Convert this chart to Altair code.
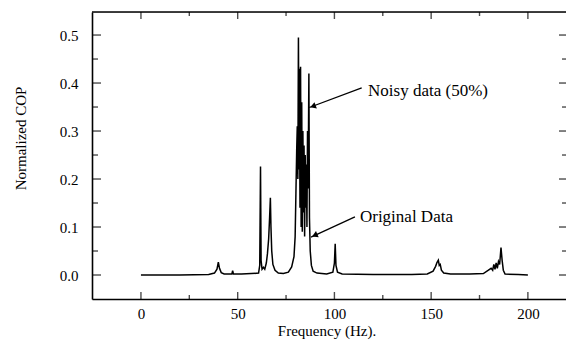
import altair as alt
import pandas as pd

# ---- spectrum (frequency in Hz, normalized COP) ----
freq = [0, 20, 35, 38, 39.3, 40.0, 40.6, 41.5, 43, 47.0, 47.4, 47.8, 52, 57,
        60.8, 61.4, 61.8, 62.1, 62.6, 63.3, 64.0, 64.8, 65.4, 66.0, 66.5, 66.9,
        67.2, 67.6, 68.2, 69.3, 71, 73.6, 76.2, 77.9, 79.1, 79.7, 80.1, 80.5,
        80.8, 81.1, 81.4, 81.7, 81.9, 82.2, 82.5, 82.8, 83.1, 83.4, 83.7, 84.0,
        84.3, 84.6, 84.9, 85.2, 85.5, 85.8, 86.1, 86.4, 86.8, 87.1, 87.5, 88.1,
        89, 91, 96, 99.2, 100.0, 100.4, 100.8, 101.6, 104, 120, 140, 148, 151,
        152.3, 153.0, 153.7, 154.2, 154.7, 155.3, 156.5, 160, 170, 177, 179.6,
        181.0, 181.8, 182.4, 183.0, 183.6, 184.2, 184.8, 185.4, 186.1, 186.7,
        187.3, 188.2, 195, 200]
cop = [0.0, 0.0, 0.001, 0.004, 0.012, 0.027, 0.014, 0.005, 0.002, 0.002, 0.009,
       0.002, 0.002, 0.003, 0.004, 0.02, 0.226, 0.03, 0.012, 0.016, 0.012, 0.025,
       0.045, 0.075, 0.12, 0.161, 0.10, 0.05, 0.022, 0.01, 0.004, 0.003, 0.006,
       0.017, 0.038, 0.08, 0.17, 0.26, 0.31, 0.2, 0.495, 0.22, 0.43, 0.14, 0.434,
       0.1, 0.36, 0.09, 0.3, 0.13, 0.27, 0.08, 0.25, 0.14, 0.23, 0.10, 0.30, 0.18,
       0.42, 0.12, 0.05, 0.02, 0.008, 0.004, 0.002, 0.006, 0.025, 0.065, 0.02,
       0.006, 0.002, 0.001, 0.001, 0.002, 0.008, 0.018, 0.026, 0.031, 0.02,
       0.022, 0.01, 0.004, 0.002, 0.002, 0.003, 0.01, 0.014, 0.01, 0.022, 0.012,
       0.025, 0.014, 0.028, 0.022, 0.057, 0.03, 0.01, 0.002, 0.001, 0.0]

# ---- axes ----
x_labels = [0, 50, 100, 150, 200]
x_minor = [25, 75, 125, 175]
y_labels = [0.0, 0.1, 0.2, 0.3, 0.4, 0.5]
y_minor = [0.05, 0.15, 0.25, 0.35, 0.45]
x_dom = [-25.3, 219.7]
y_dom = [-0.05, 0.548]

# ---- annotations ----
ann_text = ["Noisy data (50%)", "Original Data"]
ann_tx = [117.4, 113.2]
ann_ty = [0.384, 0.121]
arr_x1 = [114.1, 110.6]
arr_y1 = [0.39, 0.121]
arr_x2 = [87.0, 87.9]
arr_y2 = [0.349, 0.079]
head_x = [88.9, 89.8]
head_y = [0.3515, 0.0827]
head_angle = [249, 246]

FONT = "Liberation Serif"

xs = alt.Scale(domain=x_dom, nice=False, zero=False)
ys = alt.Scale(domain=y_dom, nice=False, zero=False)

spec = pd.DataFrame({"f": freq, "v": cop})
line = alt.Chart(spec).mark_line(color="black", strokeWidth=1.5, clip=True).encode(
    x=alt.X("f:Q", scale=xs, axis=alt.Axis(
        values=x_labels, title="Frequency (Hz).", ticks=False, grid=False,
        domain=True, domainColor="black", domainWidth=1.6,
        labelFont=FONT, labelFontSize=15, labelColor="black", labelPadding=7,
        titleFont=FONT, titleFontSize=15, titleFontWeight="normal", titleColor="black",
        titleX=234.5, titleY=31, titleBaseline="middle", titleAlign="center")),
    y=alt.Y("v:Q", scale=ys, axis=alt.Axis(
        values=y_labels, format=".1f", title="Normalized COP", ticks=False, grid=False,
        domain=True, domainColor="black", domainWidth=1.6,
        labelFont=FONT, labelFontSize=15, labelColor="black", labelPadding=14,
        titleFont=FONT, titleFontSize=15, titleFontWeight="normal", titleColor="black",
        titleAngle=-90, titleX=-72, titleY=126, titleBaseline="middle", titleAlign="center")),
)

top_border = alt.Chart(pd.DataFrame({"t": [y_dom[1]]})).mark_rule(color="black", strokeWidth=1.6).encode(
    y=alt.Y("t:Q", scale=ys, axis=None))

def yticks(vals, size, xpos):
    return alt.Chart(pd.DataFrame({"t": vals})).mark_tick(
        orient="horizontal", color="black", size=size, thickness=1.4, clip=True).encode(
        y=alt.Y("t:Q", scale=ys, axis=None), x=alt.value(xpos))

def xticks(vals, size, ypos):
    return alt.Chart(pd.DataFrame({"t": vals})).mark_tick(
        orient="vertical", color="black", size=size, thickness=1.4, clip=True).encode(
        x=alt.X("t:Q", scale=xs, axis=None), y=alt.value(ypos))

W, H = 474, 287
tick_layers = [
    yticks(y_labels, 18, 0), yticks(y_minor, 12, 0),
    yticks(y_labels, 14, W), yticks(y_minor, 8, W),
    xticks(x_labels, 14, H), xticks(x_minor, 8, H),
    xticks(x_labels, 14, 0), xticks(x_minor, 8, 0),
]

ann = pd.DataFrame({"text": ann_text, "tx": ann_tx, "ty": ann_ty,
                    "x1": arr_x1, "y1": arr_y1, "x2": arr_x2, "y2": arr_y2,
                    "hx": head_x, "hy": head_y, "ang": head_angle})

labels = alt.Chart(ann).mark_text(align="left", baseline="middle", font=FONT,
                                  fontSize=17, color="black").encode(
    x=alt.X("tx:Q", scale=xs, axis=None), y=alt.Y("ty:Q", scale=ys, axis=None), text="text:N")

arrows = alt.Chart(ann).mark_rule(color="black", strokeWidth=1.3).encode(
    x=alt.X("x1:Q", scale=xs, axis=None), y=alt.Y("y1:Q", scale=ys, axis=None),
    x2="x2:Q", y2="y2:Q")

heads = alt.Chart(ann).mark_point(shape="triangle-up", filled=True, color="black",
                                  opacity=1, size=45).encode(
    x=alt.X("hx:Q", scale=xs, axis=None), y=alt.Y("hy:Q", scale=ys, axis=None),
    angle=alt.Angle("ang:Q", scale=None))

chart = alt.layer(line, top_border, *tick_layers, arrows, heads, labels).resolve_axis(
    x="independent", y="independent"
).properties(
    width=W, height=H,
    autosize=alt.AutoSizeParams(type="none"),
    padding={"left": 84, "top": 4, "right": 0, "bottom": 41},
).configure_view(stroke=None).configure(background="white")

chart.save("out.html", embed_options={"renderer": "svg", "actions": False})
